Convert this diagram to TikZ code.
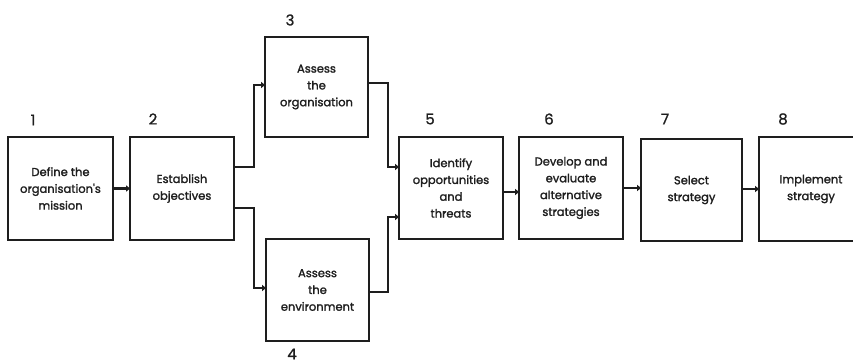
\documentclass[tikz,border=0pt]{standalone}
\usepackage{fontspec}
\setmainfont{Poppins}
\newfontfamily\boxfont{Poppins}[FakeBold=1.6]
\newfontfamily\numfont{Poppins}[FakeBold=0.8]
\usetikzlibrary{arrows.meta}
\definecolor{ink}{HTML}{1E1E1E}
\tikzset{
  box/.style={draw=ink, line width=1.8pt, rectangle, inner sep=2pt, align=center,
    font=\boxfont\fontsize{11.5}{16.8}\selectfont, text=ink},
  num/.style={font=\numfont\fontsize{15}{16}\selectfont, text=ink, inner sep=0pt},
  conn/.style={draw=ink, line width=2.8pt, -{Triangle[length=4pt,width=6pt]}, shorten >=-1pt},
}
\begin{document}
\begin{tikzpicture}[x=1pt,y=-1pt]
\useasboundingbox[fill=white] (0,0) rectangle (853,363);
\node[box, minimum width=105pt, minimum height=103pt] (b1) at (60.5,188.5) {Define the\\organisation's\\mission};
\node[box, minimum width=104pt, minimum height=103pt] (b2) at (182,188.5) {Establish\\objectives};
\node[box, minimum width=103pt, minimum height=100pt] (b3) at (316.5,87) {Assess\\the\\organisation};
\node[box, minimum width=103pt, minimum height=102pt] (b4) at (317.5,290) {Assess\\the\\environment};
\node[box, minimum width=104pt, minimum height=102pt] (b5) at (451,188) {Identify\\opportunities\\and\\threats};
\node[box, minimum width=104pt, minimum height=102pt] (b6) at (571,188) {Develop and\\evaluate\\alternative\\strategies};
\node[box, minimum width=101pt, minimum height=102pt] (b7) at (691.5,190) {Select\\strategy};
\node[box, minimum width=104pt, minimum height=104pt] (b8) at (811,189) {Implement\\strategy};
\node[num] (n1) at (33,120) {1};
\node[num] (n2) at (153,119) {2};
\node[num] (n3) at (290,20) {3};
\node[num] (n4) at (292,354) {4};
\node[num] (n5) at (430,119) {5};
\node[num] (n6) at (549,119) {6};
\node[num] (n7) at (665,119) {7};
\node[num] (n8) at (783,119) {8};
\draw[conn] (b1.east) -- (b1.east -| b2.west);
\draw[conn] ([yshift=21.5pt]b2.east) -- ++(19,0) |- ([yshift=2pt]b3.west);
\draw[conn] ([yshift=4pt]b3.east) -- ++(19,0) |- ([yshift=21pt]b5.west);
\draw[conn] ([yshift=-19.5pt]b2.east) -- ++(19,0) |- ([yshift=2pt]b4.west);
\draw[conn] ([yshift=-2pt]b4.east) -- ++(18,0) |- ([yshift=-29pt]b5.west);
\draw[conn] ([yshift=-4pt]b5.east) -- ([yshift=-4pt]b6.west);
\draw[conn] (b6.east) -- (b6.east -| b7.west);
\draw[conn] ([yshift=1pt]b7.east) -- ([yshift=1pt]b7.east -| b8.west);
\end{tikzpicture}
\end{document}
